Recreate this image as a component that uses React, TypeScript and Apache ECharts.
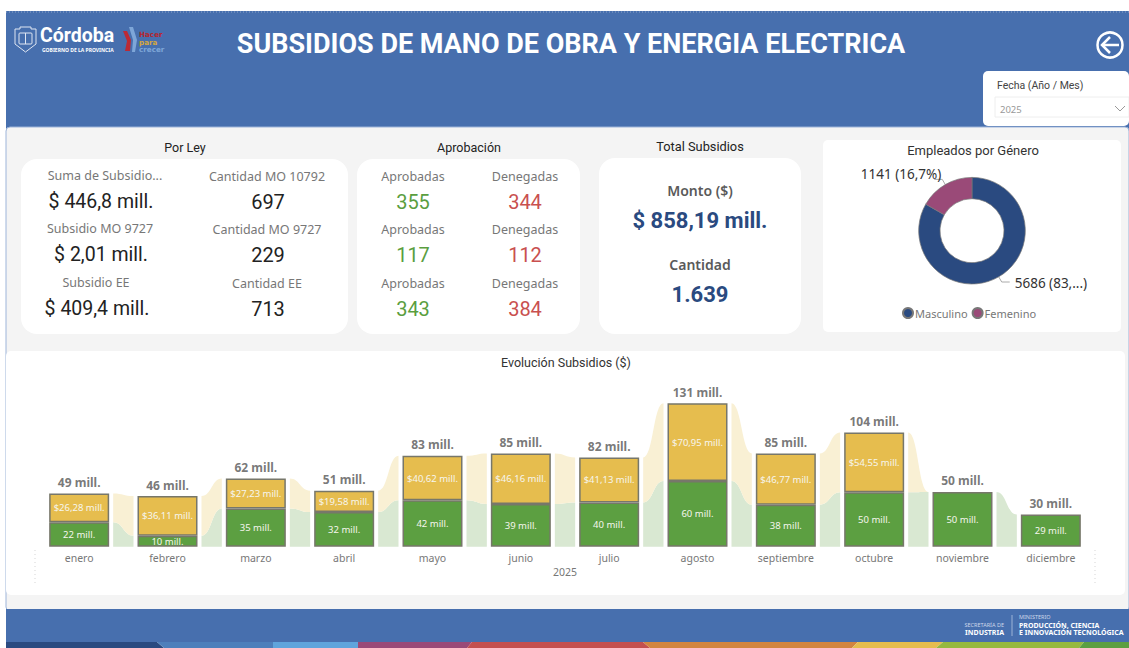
import React, { useEffect, useRef } from "react";
import * as echarts from "echarts";

const months = ["enero","febrero","marzo","abril","mayo","junio","julio","agosto","septiembre","octubre","noviembre","diciembre"];
const verde = [22.4, 10.1, 35, 31.6, 42.4, 39, 40.4, 60, 38.4, 49.7, 50, 29.4];
const amarillo: (number | null)[] = [26.28, 36.11, 27.23, 19.58, 40.62, 46.16, 41.13, 70.95, 46.77, 54.55, null, null];
const totalLabels = ["49 mill.","46 mill.","62 mill.","51 mill.","83 mill.","85 mill.","82 mill.","131 mill.","85 mill.","104 mill.","50 mill.","30 mill."];
const generoNames = ["Masculino", "Femenino"];
const generoValues = [5686, 1141];
const generoLabels = ["5686 (83,...)", "1141 (16,7%)"];

const porLey = [
  ["Suma de Subsidio...", "$ 446,8 mill.", "Cantidad MO 10792", "697"],
  ["Subsidio MO 9727", "$ 2,01 mill.", "Cantidad MO 9727", "229"],
  ["Subsidio EE", "$ 409,4 mill.", "Cantidad EE", "713"],
];
const aprobadas = ["355", "117", "343"];
const denegadas = ["344", "112", "384"];

const SEGOE = '"Noto Sans", sans-serif';
const DIN = 'Roboto, sans-serif';
const BLUE = "#476fae";

const txt = (text: string, x: number, y: number, size: number, fill: string, o: any = {}) => ({
  type: "text", x, y,
  style: { text, fill, fontSize: size, fontFamily: o.family || SEGOE, fontWeight: o.weight || 400,
    align: o.align || "center", verticalAlign: "middle" },
});
const rect = (x: number, y: number, w: number, h: number, fill: string, r = 0, extra: any = {}) => ({
  type: "rect", shape: { x, y, width: w, height: h, r }, style: { fill, ...extra },
});

// colour band at the foot of the page: [x at top, x at bottom, colour]
const band = [
  [6, 6, "#2a4a80"], [157, 164, "#4d7fbb"], [273, 273, "#5fa4dc"], [358, 358, "#9a4a78"],
  [472, 467, "#c4504f"], [643, 650, "#d28540"], [858, 852, "#e6bd4e"], [943, 936, "#96b93f"], [1084, 1079, "#5c9f41"],
] as [number, number, string][];

function buildGraphics() {
  const g: any[] = [
    rect(6, 11, 1123, 120, BLUE),
    { type: "line", shape: { x1: 6, y1: 12, x2: 1129, y2: 12 }, style: { stroke: "#8fa6c9", lineWidth: 1, lineDash: [1, 2] } },
    rect(6, 127, 1123, 484, "#f4f4f4", 4, { stroke: "#9db4d9", lineWidth: 1 }),
    rect(6, 609, 1123, 33, BLUE),
    ...band.map(([t, b, c], i) => {
      const nx = band[i + 1] || [1129, 1129];
      return { type: "polygon", shape: { points: [[t, 642], [nx[0], 642], [nx[1], 648], [b, 648]] }, style: { fill: c } };
    }),
    rect(6, 351, 1119, 244, "#ffffff", 5),
    rect(21, 159, 327, 175, "#ffffff", 16),
    rect(357, 159, 223, 175, "#ffffff", 16),
    rect(599, 158, 202, 176, "#ffffff", 16),
    rect(823, 140, 298, 192, "#ffffff", 5),
    rect(983, 71, 146, 55, "#ffffff", 5),
    { type: "rect", shape: { x: 995, y: 97, width: 134, height: 20 }, style: { fill: "#fff", stroke: "#eeeeee", lineWidth: 1 } },
    txt("SUBSIDIOS DE MANO DE OBRA Y ENERGIA ELECTRICA", 571, 43.5, 27, "#ffffff", { family: DIN, weight: 700 }),
    // logo
    { type: "polygon", shape: { points: [[15, 29], [20, 29], [20, 27], [31, 27], [31, 29], [36, 29], [36, 44], [25.5, 52], [15, 44]] }, style: { fill: "none", stroke: "#dfe6f2", lineWidth: 1 } },
    { type: "rect", shape: { x: 19, y: 33, width: 13, height: 11, r: 1 }, style: { fill: "none", stroke: "#dfe6f2", lineWidth: 1 } },
    { type: "line", shape: { x1: 25.5, y1: 33, x2: 25.5, y2: 44 }, style: { stroke: "#dfe6f2", lineWidth: 1 } },
    txt("Córdoba", 40, 35.5, 19.5, "#ffffff", { align: "left", weight: 700, family: DIN }),
    txt("GOBIERNO DE LA PROVINCIA", 42, 50, 5, "#ffffff", { align: "left", weight: 700 }),
    { type: "polygon", shape: { points: [[129, 27], [133, 27], [137, 40], [135, 52], [132, 52], [133, 40]] }, style: { fill: "#7ea6d8" } },
    { type: "polygon", shape: { points: [[123, 31], [127, 31], [131, 40], [130, 51], [125, 51], [127, 41]] }, style: { fill: "#bb2a35" } },
    txt("Hacer", 139, 34.5, 7.2, "#b3262f", { align: "left", weight: 700, family: '"DejaVu Sans", sans-serif' }),
    txt("para", 139, 42, 7.2, "#d3a73f", { align: "left", weight: 700, family: '"DejaVu Sans", sans-serif' }),
    txt("crecer", 139, 49.5, 7.2, "#7ea6d8", { align: "left", weight: 700, family: '"DejaVu Sans", sans-serif' }),
    // back arrow
    { type: "circle", shape: { cx: 1110, cy: 45, r: 12.5 }, style: { fill: "none", stroke: "#fff", lineWidth: 2.5 } },
    { type: "polyline", shape: { points: [[1110, 37], [1102, 45], [1110, 53]] }, style: { fill: "none", stroke: "#fff", lineWidth: 2.5 } },
    { type: "line", shape: { x1: 1102, y1: 45, x2: 1119, y2: 45 }, style: { stroke: "#fff", lineWidth: 2.5 } },
    // slicer
    txt("Fecha (Año / Mes)", 997, 85, 10.5, "#444444", { align: "left", family: DIN }),
    txt("2025", 1000, 109, 9.5, "#999999", { align: "left" }),
    { type: "polyline", shape: { points: [[1115, 106], [1120, 111], [1125, 106]] }, style: { fill: "none", stroke: "#999", lineWidth: 1 } },
    // titles
    txt("Por Ley", 185, 147, 12.5, "#222222", { family: DIN }),
    txt("Aprobación", 469, 147, 12.5, "#222222", { family: DIN }),
    txt("Total Subsidios", 700, 146, 12.8, "#222222", { family: DIN }),
    txt("Empleados por Género", 973, 150, 13, "#333333", { family: DIN }),
    txt("Evolución Subsidios ($)", 566, 362, 12.5, "#333333", { family: DIN }),
    // total
    txt("Monto ($)", 700, 190.5, 14, "#5a5a5a", { weight: 600 }),
    txt("$ 858,19 mill.", 700, 220, 22, "#2a4a80", { family: DIN, weight: 700 }),
    txt("Cantidad", 700, 264.5, 14, "#5a5a5a", { weight: 600 }),
    txt("1.639", 700, 294, 22, "#2a4a80", { family: DIN, weight: 700 }),
    // footer
    txt("SECRETARÍA DE", 1004, 625, 5.5, "#cdd8ea", { align: "right" }),
    txt("INDUSTRIA", 1004, 632, 7, "#ffffff", { align: "right", weight: 700 }),
    { type: "line", shape: { x1: 1012, y1: 615, x2: 1012, y2: 636 }, style: { stroke: "#9db4d6", lineWidth: 1 } },
    txt("MINISTERIO", 1019, 617, 5.5, "#cdd8ea", { align: "left" }),
    txt("PRODUCCIÓN, CIENCIA", 1019, 625, 7, "#ffffff", { align: "left", weight: 700 }),
    txt("E INNOVACIÓN TECNOLÓGICA", 1019, 632, 7, "#ffffff", { align: "left", weight: 700 }),
    // dotted edges
    { type: "line", shape: { x1: 35, y1: 550, x2: 35, y2: 583 }, style: { stroke: "#d5d5d5", lineWidth: 1, lineDash: [1, 3] } },
    { type: "line", shape: { x1: 1095, y1: 550, x2: 1095, y2: 583 }, style: { stroke: "#d5d5d5", lineWidth: 1, lineDash: [1, 3] } },
  ];
  const cx1 = [105, 100, 96], vx1 = [101, 101, 97];
  const ly = [176, 229, 283], vy = [202, 255, 309];
  porLey.forEach((r, i) => {
    g.push(txt(r[0], cx1[i], ly[i] - (i === 0 ? 0.5 : 1), 12.5, "#777777"));
    g.push(txt(r[1], vx1[i], vy[i] - 1, 19.5, "#222222", { family: DIN }));
    g.push(txt(r[2], 267, ly[i], 12.5, "#777777"));
    g.push(txt(r[3], 268, vy[i], 20, "#222222", { family: DIN }));
    g.push(txt("Aprobadas", 413, ly[i], 12.5, "#777777"));
    g.push(txt(aprobadas[i], 413, vy[i], 20, "#5a9e3f", { family: DIN }));
    g.push(txt("Denegadas", 525, ly[i], 12.5, "#777777"));
    g.push(txt(denegadas[i], 525, vy[i], 20, "#c9504f", { family: DIN }));
  });
  return g;
}

const yel = (i: number) => amarillo[i] ?? 0;
const totals = verde.map((v, i) => v + yel(i));

function ribbon(fill: string) {
  return (_: any, api: any) => {
    const i = api.value(0);
    const [a0, a1, b0, b1] = [api.value(1), api.value(2), api.value(3), api.value(4)];
    const l = api.coord([i, 0])[0] + 34;
    const r = api.coord([i + 1, 0])[0] - 34;
    const m = (l + r) / 2;
    const y = (v: number) => api.coord([i, v])[1];
    const d =
      `M${l} ${y(a0)} C${m} ${y(a0)} ${m} ${y(a1)} ${r} ${y(a1)} ` +
      `L${r} ${y(b1)} C${m} ${y(b1)} ${m} ${y(b0)} ${l} ${y(b0)} Z`;
    return { type: "path", shape: { pathData: d }, style: { fill } };
  };
}

export default function App() {
  const ref = useRef<HTMLDivElement>(null);
  useEffect(() => {
    document.body.style.margin = "0";
    document.body.style.background = "#fff";
    const chart = echarts.init(ref.current!, undefined, { renderer: "svg" });
    const idx = months.slice(0, -1).map((_, i) => i);
    const border = { borderColor: "#77776a", borderWidth: 1.5 };
    const valLabel = { show: true, position: "inside", color: "#f6f6ee", fontSize: 9.5, fontFamily: SEGOE };
    chart.setOption({
      animation: false,
      textStyle: { fontFamily: SEGOE },
      graphic: { elements: buildGraphics() },
      legend: {
        data: generoNames, left: 897, top: 302, itemWidth: 10, itemHeight: 10, itemGap: 4,
        icon: "circle", textStyle: { fontSize: 11, color: "#777777", fontFamily: SEGOE, padding: [0, 0, 0, -3] },
      },
      grid: { left: 35, width: 1060, top: 382.45, height: 164.25 },
      xAxis: {
        type: "category", data: months,
        axisLine: { show: false }, axisTick: { show: false },
        axisLabel: { color: "#777777", fontSize: 10.5, margin: 6, fontFamily: SEGOE },
        name: "2025", nameLocation: "middle", nameGap: 20,
        nameTextStyle: { color: "#777777", fontSize: 10.5, fontFamily: SEGOE },
      },
      yAxis: { type: "value", min: 0, max: 150, show: false },
      series: [
        { type: "custom", silent: true, renderItem: ribbon("#d9e8d2"), coordinateSystem: "cartesian2d",
          data: idx.map(i => [i, verde[i], verde[i + 1], 0, 0]) },
        { type: "custom", silent: true, renderItem: ribbon("#f9f0d4"), coordinateSystem: "cartesian2d",
          data: idx.map(i => [i, totals[i], totals[i + 1], verde[i], verde[i + 1]]) },
        { type: "bar", stack: "t", barWidth: 60, data: verde,
          itemStyle: { color: "#5c9f41", ...border },
          label: { ...valLabel, formatter: (p: any) => `${Math.round(p.value)} mill.` } },
        { type: "bar", stack: "t", barWidth: 60, data: amarillo,
          itemStyle: { color: "#e6bd4e", ...border },
          label: { ...valLabel, formatter: (p: any) => `$${p.value.toFixed(2).replace(".", ",")} mill.` } },
        { type: "scatter", symbolSize: 0, data: totals, silent: true,
          label: { show: true, position: "top", distance: 5, color: "#555555", fontSize: 12, fontWeight: 700,
            fontFamily: SEGOE, formatter: (p: any) => totalLabels[p.dataIndex] } },
        {
          type: "pie", center: [972, 230.7], radius: [32, 53.3], startAngle: 90, clockwise: true,
          avoidLabelOverlap: false,
          data: generoNames.map((name, i) => ({ name, value: generoValues[i] })),
          color: ["#2a4a80", "#9a4a78"],
          itemStyle: { borderColor: "#777777", borderWidth: 0.7 },
          label: { show: true, position: "outside", fontSize: 13.5, color: "#333333", fontFamily: SEGOE,
            formatter: (p: any) => generoLabels[p.dataIndex] },
          labelLayout: (p: any) => p.dataIndex === 1 ? { dx: 12, dy: -5 } : { dy: 1 },
          labelLine: { show: true, length: 6, length2: 8, smooth: false, lineStyle: { color: "#aaaaaa", width: 1 } },
        },
      ],
    });
    return () => chart.dispose();
  }, []);
  return <div ref={ref} style={{ position: "absolute", left: 0, top: 0, width: 1129, height: 648 }} />;
}
